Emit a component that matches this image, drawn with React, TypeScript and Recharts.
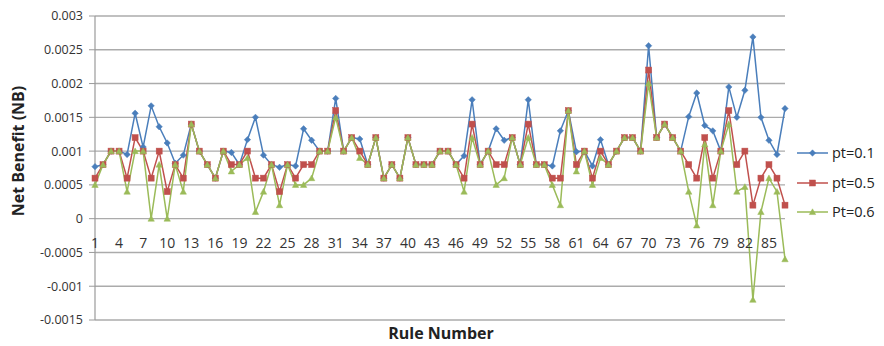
import React from "react";
import { LineChart, Line, XAxis, YAxis, CartesianGrid } from "recharts";

const rules: string[] = Array.from({ length: 87 }, (_, i) => String(i + 1));

const pt01: number[] = [
  0.00077, 0.0008, 0.001, 0.001, 0.00095, 0.00156, 0.00106, 0.00167, 0.00136, 0.00112,
  0.00082, 0.00094, 0.0014, 0.001, 0.0008, 0.0006, 0.001, 0.00098, 0.0008, 0.00117,
  0.0015, 0.00094, 0.0008, 0.00076, 0.0008, 0.00078, 0.00133, 0.00116, 0.001, 0.001,
  0.00178, 0.001, 0.0012, 0.00118, 0.0008, 0.0012, 0.0006, 0.0008, 0.0006, 0.0012,
  0.0008, 0.0008, 0.0008, 0.001, 0.001, 0.0008, 0.00093, 0.00176, 0.0008, 0.001,
  0.00133, 0.00116, 0.0012, 0.0008, 0.00176, 0.0008, 0.0008, 0.00078, 0.0013, 0.0016,
  0.00099, 0.001, 0.00078, 0.00117, 0.0008, 0.001, 0.0012, 0.0012, 0.001, 0.00256,
  0.0012, 0.0014, 0.0012, 0.001, 0.00151, 0.00186, 0.00138, 0.0013, 0.001, 0.00195,
  0.0015, 0.0019, 0.00269, 0.0015, 0.00116, 0.00095, 0.00163,
];

const pt05: number[] = [
  0.0006, 0.0008, 0.001, 0.001, 0.0006, 0.0012, 0.001, 0.0006, 0.001, 0.0004,
  0.0008, 0.0006, 0.0014, 0.001, 0.0008, 0.0006, 0.001, 0.0008, 0.0008, 0.001,
  0.0006, 0.0006, 0.0008, 0.0004, 0.0008, 0.0006, 0.0008, 0.0008, 0.001, 0.001,
  0.0016, 0.001, 0.0012, 0.001, 0.0008, 0.0012, 0.0006, 0.0008, 0.0006, 0.0012,
  0.0008, 0.0008, 0.0008, 0.001, 0.001, 0.0008, 0.0006, 0.0014, 0.0008, 0.001,
  0.0008, 0.0008, 0.0012, 0.0008, 0.0014, 0.0008, 0.0008, 0.0006, 0.0006, 0.0016,
  0.0008, 0.001, 0.0006, 0.001, 0.0008, 0.001, 0.0012, 0.0012, 0.001, 0.0022,
  0.0012, 0.0014, 0.0012, 0.001, 0.0008, 0.0006, 0.0012, 0.0006, 0.001, 0.0016,
  0.0008, 0.001, 0.0002, 0.0006, 0.0008, 0.0006, 0.0002,
];

const pt06: number[] = [
  0.0005, 0.0008, 0.001, 0.001, 0.0004, 0.001, 0.001, 0, 0.0008, 0,
  0.0008, 0.0004, 0.0014, 0.001, 0.0008, 0.0006, 0.001, 0.0007, 0.0008, 0.0009,
  0.0001, 0.0004, 0.0008, 0.0002, 0.0008, 0.0005, 0.0005, 0.0006, 0.001, 0.001,
  0.0015, 0.001, 0.0012, 0.0009, 0.0008, 0.0012, 0.0006, 0.0008, 0.0006, 0.0012,
  0.0008, 0.0008, 0.0008, 0.001, 0.001, 0.0008, 0.0004, 0.0012, 0.0008, 0.001,
  0.0005, 0.0006, 0.0012, 0.0008, 0.0012, 0.0008, 0.0008, 0.0005, 0.0002, 0.0016,
  0.0007, 0.001, 0.0005, 0.0009, 0.0008, 0.001, 0.0012, 0.0012, 0.001, 0.002,
  0.0012, 0.0014, 0.0012, 0.001, 0.0004, -0.0001, 0.0011, 0.0002, 0.001, 0.0014,
  0.0004, 0.00047, -0.0012, 0.0001, 0.0006, 0.0004, -0.0006,
];

const yTicks: number[] = [-0.0015, -0.001, -0.0005, 0, 0.0005, 0.001, 0.0015, 0.002, 0.0025, 0.003];
const seriesNames: string[] = ["pt=0.1", "pt=0.5", "Pt=0.6"];

const data = rules.map((r, i) => ({ rule: r, a: pt01[i], b: pt05[i], c: pt06[i] }));

const W = 884;
const H = 346;
const PLOT_TOP = 16;
const PLOT_BOTTOM = 320;
const PLOT_LEFT = 95;
const PLOT_RIGHT = 785;
const Y_AXIS_W = 60;
const X_AXIS_H = 20;
const Y_MIN = yTicks[0];
const Y_MAX = yTicks[yTicks.length - 1];
const ZERO_Y = PLOT_TOP + ((PLOT_BOTTOM - PLOT_TOP) * (Y_MAX - 0)) / (Y_MAX - Y_MIN);

const BLUE = "#4A7EBB";
const RED = "#C0504D";
const GREEN = "#9BBB59";
const FONT = "'Open Sans', sans-serif";

const fmt = (v: number) => String(Number(v.toFixed(4)));

const Diamond = (props: any) => {
  const { cx, cy } = props;
  if (cx == null || cy == null) return null;
  const s = 3.2;
  return <path d={`M${cx},${cy - s}L${cx + s},${cy}L${cx},${cy + s}L${cx - s},${cy}Z`} fill={BLUE} stroke={BLUE} strokeWidth={0.5} />;
};
const Square = (props: any) => {
  const { cx, cy } = props;
  if (cx == null || cy == null) return null;
  const s = 3;
  return <rect x={cx - s} y={cy - s} width={2 * s} height={2 * s} fill={RED} stroke={RED} strokeWidth={0.5} />;
};
const Triangle = (props: any) => {
  const { cx, cy } = props;
  if (cx == null || cy == null) return null;
  const s = 3.2;
  return <path d={`M${cx},${cy - s}L${cx + s},${cy + s * 0.8}L${cx - s},${cy + s * 0.8}Z`} fill={GREEN} stroke={GREEN} strokeWidth={0.5} />;
};

const XTick = (props: any) => {
  const { x, payload } = props;
  return (
    <text x={x} y={ZERO_Y + 29} textAnchor="middle" fontSize={14} fill="#333" fontFamily={FONT}>
      {payload.value}
    </text>
  );
};

export default function App() {
  return (
    <div style={{ position: "absolute", left: 0, top: 0, width: W, height: H, background: "#fff" }}>
      <LineChart
        width={W}
        height={H}
        data={data}
        margin={{ top: PLOT_TOP, left: PLOT_LEFT - Y_AXIS_W, right: W - PLOT_RIGHT, bottom: H - PLOT_BOTTOM - X_AXIS_H }}
      >
        <CartesianGrid vertical={false} stroke="#ababab" strokeWidth={1.4} />
        <XAxis
          dataKey="rule"
          interval={2}
          height={X_AXIS_H}
          axisLine={false}
          tickLine={false}
          tick={<XTick />}
        />
        <YAxis
          width={Y_AXIS_W}
          domain={[Y_MIN, Y_MAX]}
          ticks={yTicks}
          tickFormatter={fmt}
          axisLine={{ stroke: "#9a9a9a", strokeWidth: 1.2 }}
          tickLine={{ stroke: "#9a9a9a" }}
          tickSize={6}
          tickMargin={6}
          tick={{ fontSize: 12.5, fill: "#333", fontFamily: FONT }}
          allowDataOverflow
        />
        <Line dataKey="a" name={seriesNames[0]} stroke={BLUE} strokeWidth={1.5} dot={<Diamond />} isAnimationActive={false} />
        <Line dataKey="b" name={seriesNames[1]} stroke={RED} strokeWidth={1.5} dot={<Square />} isAnimationActive={false} />
        <Line dataKey="c" name={seriesNames[2]} stroke={GREEN} strokeWidth={1.5} dot={<Triangle />} isAnimationActive={false} />
      </LineChart>
      <svg width={W} height={H} style={{ position: "absolute", left: 0, top: 0, pointerEvents: "none" }}>
        <text
          x={24}
          y={151}
          transform="rotate(-90 24 151)"
          textAnchor="middle"
          fontSize={16}
          fontWeight="bold"
          fill="#222"
          fontFamily={FONT}
        >
          Net Benefit (NB)
        </text>
        <text x={441} y={339} textAnchor="middle" fontSize={16} fontWeight="bold" fill="#222" fontFamily={FONT}>
          Rule Number
        </text>
        {seriesNames.map((n, i) => {
          const y = [153, 183, 212][i];
          const c = [BLUE, RED, GREEN][i];
          const Dot = [Diamond, Square, Triangle][i];
          return (
            <g key={n}>
              <line x1={797} x2={828} y1={y} y2={y} stroke={c} strokeWidth={1.5} />
              <Dot cx={812.5} cy={y} />
              <text x={832} y={y + 5} fontSize={14.5} fill="#222" fontFamily={FONT}>
                {n}
              </text>
            </g>
          );
        })}
      </svg>
    </div>
  );
}
